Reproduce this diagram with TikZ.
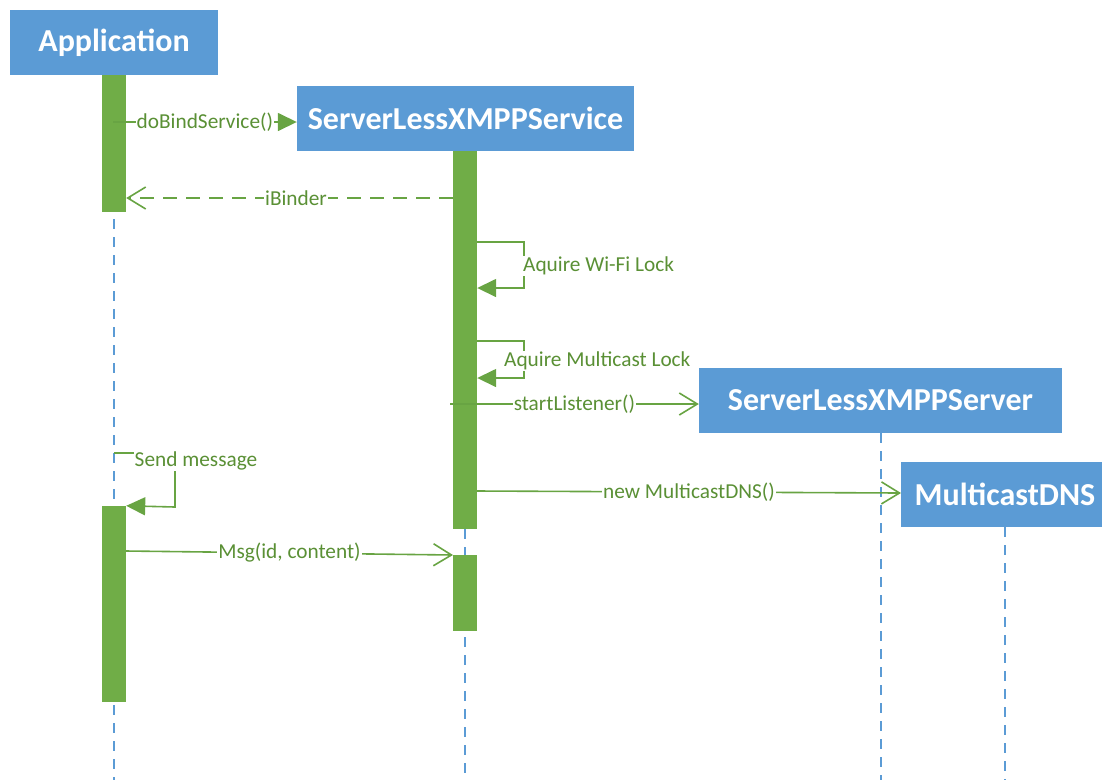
\documentclass[tikz,border=0pt]{standalone}
\usepackage{fontspec}
\setmainfont{Carlito}
\usetikzlibrary{arrows.meta}
\definecolor{boxblue}{HTML}{5B9BD5}
\definecolor{bargreen}{HTML}{70AD47}
\definecolor{msggreen}{HTML}{68A443}
\definecolor{txtgreen}{HTML}{5A9035}
\tikzset{
  actor/.style={fill=boxblue, draw=none, text=white, font=\fontsize{32}{36}\selectfont\bfseries,
    minimum height=65pt, inner sep=0pt},
  lifeline/.style={draw=boxblue, line width=1.5pt, dash pattern=on 10pt off 8pt},
  actbar/.style={fill=bargreen, draw=none, minimum width=24pt, inner sep=0pt},
  msg/.style={draw=msggreen, line width=1.6pt},
  reply/.style={msg, dash pattern=on 14pt off 9pt},
  sync/.style={-{Triangle[length=19pt,width=18pt]}},
  async/.style={-{Straight Barb[length=18pt,width=22pt,line width=1.6pt]}},
  lbl/.style={fill=white, text=txtgreen, font=\fontsize{21.3}{24}\selectfont, inner sep=1pt}
}
\begin{document}
\begin{tikzpicture}[x=1pt,y=-1pt]
\useasboundingbox (0,0) rectangle (1102,780);
\clip (0,0) rectangle (1102,780);

% participants
\node[actor, minimum width=208pt] (app) at (114,42.5) {Application};
\node[actor, minimum width=337pt] (svc) at (465.5,118.5) {ServerLessXMPPService};
\node[actor, minimum width=363pt] (srv) at (880.5,400.5) {ServerLessXMPPServer};
\node[actor, minimum width=208pt] (dns) at (1005,494.5) {MulticastDNS};

% lifeline ends
\coordinate (appEnd) at (114,780);
\coordinate (svcEnd) at (465,780);
\coordinate (srvEnd) at (881,780);
\coordinate (dnsEnd) at (1005,780);
\draw[lifeline] (114,75) -- (appEnd);
\draw[lifeline] (465,151) -- (svcEnd);
\draw[lifeline] (881,433) -- (srvEnd);
\draw[lifeline] (1005,527) -- (dnsEnd);

% activation bars
\node[actbar, minimum height=137pt] (appA) at (114,143.5) {};
\node[actbar, minimum height=196pt] (appB) at (114,604) {};
\node[actbar, minimum height=378pt] (svcA) at (465,340) {};
\node[actbar, minimum height=76pt]  (svcB) at (465,593) {};

% message rows
\coordinate (y1) at (0,122);
\coordinate (y2) at (0,198);
\coordinate (y3) at (0,242);
\coordinate (y4) at (0,288);
\coordinate (y5) at (0,341);
\coordinate (y6) at (0,378);
\coordinate (y7) at (0,404);
\coordinate (y8) at (0,453);

% doBindService()
\coordinate (bindStart) at (113,122);
\draw[msg, sync] (bindStart) -- (svc.west |- y1)
  node[lbl, pos=0.5] {doBindService()};

% iBinder
\draw[reply, async] (svcA.west |- y2) -- (appA.east |- y2)
  node[lbl, pos=0.48] {iBinder};

% Aquire Wi-Fi Lock
\draw[msg, sync] (svcA.east |- y3) -- (524,242) -- (524,288) -- (svcA.east |- y4);
\node[lbl, anchor=west] (wifi) at (522,266) {Aquire Wi-Fi Lock};

% Aquire Multicast Lock
\draw[msg, sync] (svcA.east |- y5) -- (524,341) -- (524,378) -- (svcA.east |- y6);
\node[lbl, anchor=west] (mcl) at (503,361) {Aquire Multicast Lock};

% startListener()
\coordinate (listenStart) at (450,404);
\draw[msg, async] (listenStart) -- (srv.west |- y7)
  node[lbl, pos=0.5] {startListener()};

% new MulticastDNS()
\coordinate (dnsStart) at (477,491);
\coordinate (dnsTip) at (901,493);
\draw[msg, async] (dnsStart) -- (dnsTip)
  node[lbl, pos=0.5] {new MulticastDNS()};

% Send message
\draw[msg, sync] (app.south |- y8) -- (175,453) -- (175,507) -- (appB.north east);
\node[lbl] (send) at (196,461) {Send message};

% Msg(id, content)
\coordinate (msgStart) at (126,551);
\coordinate (msgTip) at (453,555);
\draw[msg, async] (msgStart) -- (msgTip)
  node[lbl, pos=0.5] {Msg(id, content)};
\end{tikzpicture}
\end{document}
